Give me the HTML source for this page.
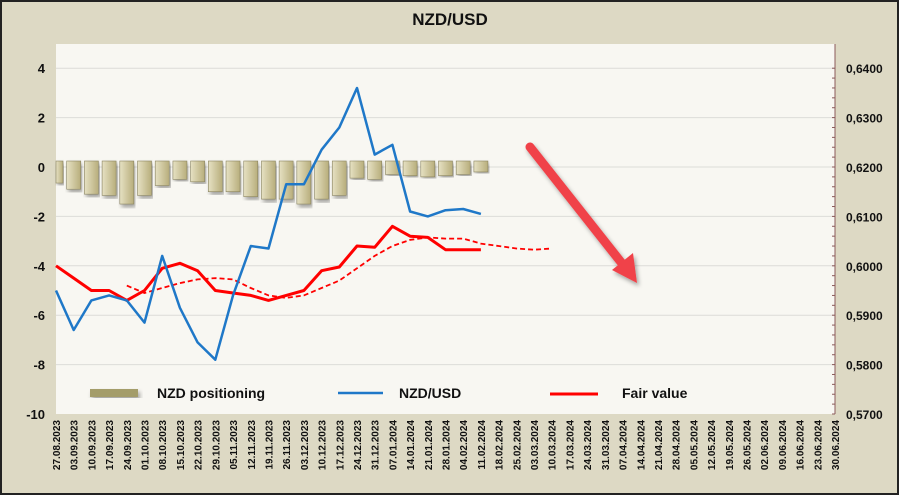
<!DOCTYPE html>
<html><head><meta charset="utf-8"><style>
body{margin:0;background:#fff;}
svg{display:block;font-family:"Liberation Sans",sans-serif;}
</style></head><body>
<svg id="c" width="900" height="496" viewBox="0 0 900 496">
<defs>
<linearGradient id="bg" x1="0" x2="1"><stop offset="0" stop-color="#e6e1c3"/><stop offset="1" stop-color="#b8ae7c"/></linearGradient>
<filter id="sh"><feDropShadow dx="2" dy="3" stdDeviation="2" flood-color="#000" flood-opacity="0.35"/></filter>
</defs>
<rect x="1" y="1" width="897" height="493" fill="#ddd9c4" stroke="#222" stroke-width="2"/>
<text x="450" y="25" text-anchor="middle" font-size="17" font-weight="bold" fill="#111">NZD/USD</text>
<rect x="56" y="44" width="779" height="370" fill="#f8f7f2"/>
<g id="grid"></g><g id="bars"></g><g id="lines"></g><g id="axes"></g>
<g>
<rect x="90" y="389" width="48" height="8" fill="#a49d6a" filter="url(#sh)"/>
<text x="157" y="398" font-size="14" font-weight="bold" fill="#111">NZD positioning</text>
<line x1="338" y1="393" x2="383" y2="393" stroke="#1f78c8" stroke-width="2.5"/>
<text x="399" y="398" font-size="14" font-weight="bold" fill="#111">NZD/USD</text>
<line x1="550" y1="394" x2="598" y2="394" stroke="#ff0000" stroke-width="3"/>
<text x="622" y="398" font-size="14" font-weight="bold" fill="#111">Fair value</text>
</g>
<g filter="url(#sh)">
<line x1="530" y1="147" x2="624" y2="266" stroke="#f0434a" stroke-width="9" stroke-linecap="round"/>
<polygon points="637,283 612,270 633,253" fill="#f0434a"/>
</g>
</svg>
<script>
const categories=["27.08.2023","03.09.2023","10.09.2023","17.09.2023","24.09.2023","01.10.2023","08.10.2023","15.10.2023","22.10.2023","29.10.2023","05.11.2023","12.11.2023","19.11.2023","26.11.2023","03.12.2023","10.12.2023","17.12.2023","24.12.2023","31.12.2023","07.01.2024","14.01.2024","21.01.2024","28.01.2024","04.02.2024","11.02.2024","18.02.2024","25.02.2024","03.03.2024","10.03.2024","17.03.2024","24.03.2024","31.03.2024","07.04.2024","14.04.2024","21.04.2024","28.04.2024","05.05.2024","12.05.2024","19.05.2024","26.05.2024","02.06.2024","09.06.2024","16.06.2024","23.06.2024","30.06.2024"];
const positioning=[-0.65,-0.9,-1.1,-1.15,-1.5,-1.15,-0.75,-0.5,-0.6,-1.0,-1.0,-1.2,-1.3,-1.3,-1.5,-1.3,-1.15,-0.45,-0.5,-0.3,-0.35,-0.4,-0.35,-0.3,-0.2];
const nzdusd=[0.5950,0.5870,0.5930,0.5940,0.5930,0.5885,0.6020,0.5915,0.5845,0.5810,0.5940,0.6040,0.6035,0.6165,0.6165,0.6235,0.6280,0.6360,0.6225,0.6245,0.6110,0.6100,0.61125,0.6115,0.6105];
const fairValue=[-4.0,-4.5,-5.0,-5.0,-5.4,-5.0,-4.1,-3.9,-4.2,-5.0,-5.1,-5.2,-5.4,-5.2,-5.0,-4.2,-4.05,-3.2,-3.25,-2.4,-2.8,-2.85,-3.35,-3.35,-3.35];
const fairTrend=[null,null,null,null,-4.8,-5.1,-4.9,-4.7,-4.55,-4.5,-4.55,-4.9,-5.2,-5.3,-5.2,-4.9,-4.6,-4.1,-3.6,-3.2,-2.95,-2.85,-2.9,-2.9,-3.1,-3.2,-3.3,-3.35,-3.3];
const leftTicks=[4,2,0,-2,-4,-6,-8,-10];
const rightTicks=["0,6400","0,6300","0,6200","0,6100","0,6000","0,5900","0,5800","0,5700"];
const rightVals=[0.64,0.63,0.62,0.61,0.60,0.59,0.58,0.57];
const NS="http://www.w3.org/2000/svg";
const X0=56,X1=835,Y0v=167,PX=24.7;
const xs=i=>X0+i*(X1-X0)/(categories.length-1);
const yL=v=>Y0v-v*PX;
const yR=p=>yL((p-0.62)/0.005);
function mk(tag,attrs,parent){const e=document.createElementNS(NS,tag);for(const k in attrs)e.setAttribute(k,attrs[k]);parent.appendChild(e);return e;}
const grid=document.getElementById('grid'),bars=document.getElementById('bars'),lines=document.getElementById('lines'),axes=document.getElementById('axes');
leftTicks.forEach(v=>{
 if(v>-10){const l=mk('line',{x1:X0,x2:X1,y1:yL(v),y2:yL(v),stroke:'#dcdcd8','stroke-width':1},grid);
 
 }
 const t=mk('text',{x:45,y:yL(v)+5,'text-anchor':'end','font-size':13,'font-weight':'bold',fill:'#111'},axes);t.textContent=v;
 
 
});
mk('line',{x1:X1,x2:X1,y1:44,y2:414,stroke:'#8b5a5a','stroke-width':1},axes);
for(let k=0;k<=35;k++){const y=yR(0.5700+k*0.002);if(y<44)break;mk('line',{x1:X1-3,x2:X1,y1:y,y2:y,stroke:'#8b5a5a'},axes);}
rightVals.forEach((p,i)=>{
 const t=mk('text',{x:846,y:yR(p)+5,'font-size':12,'font-weight':'bold',fill:'#111'},axes);t.textContent=rightTicks[i];
 
 
});
categories.forEach((c,i)=>{
 const x=xs(i)+4;
 const t=mk('text',{x:x,y:420,'text-anchor':'end','font-size':10,'font-weight':'bold',fill:'#111',transform:`rotate(-90 ${x} 420)`},axes);t.textContent=c;
 
 
});
positioning.forEach((v,i)=>{
 const x=xs(i);const top=yL(Math.max(v,0))-6,bot=yL(Math.min(v,0))+(v>0?6:0);
 const r=mk('rect',{x:Math.max(x-7,X0),y:top,width:(x-7<X0?x+7-X0:14),height:bot-top,fill:'url(#bg)',stroke:'#8a8460','stroke-width':0.6,filter:'url(#sh)'},bars);
 
 
});
function path(arr,fy){let d='';arr.forEach((v,i)=>{if(v===null)return;d+=(d?'L':'M')+xs(i).toFixed(1)+','+fy(v).toFixed(1);});return d;}
const pt=mk('path',{d:path(fairTrend,yL),fill:'none',stroke:'#ff0000','stroke-width':1.8,'stroke-dasharray':'5,3'},lines);


const pf=mk('path',{d:path(fairValue,yL),fill:'none',stroke:'#ff0000','stroke-width':3,'stroke-linejoin':'round'},lines);


const pb=mk('path',{d:path(nzdusd,yR),fill:'none',stroke:'#1f78c8','stroke-width':2.5,'stroke-linejoin':'round'},lines);


</script>
</body></html>
